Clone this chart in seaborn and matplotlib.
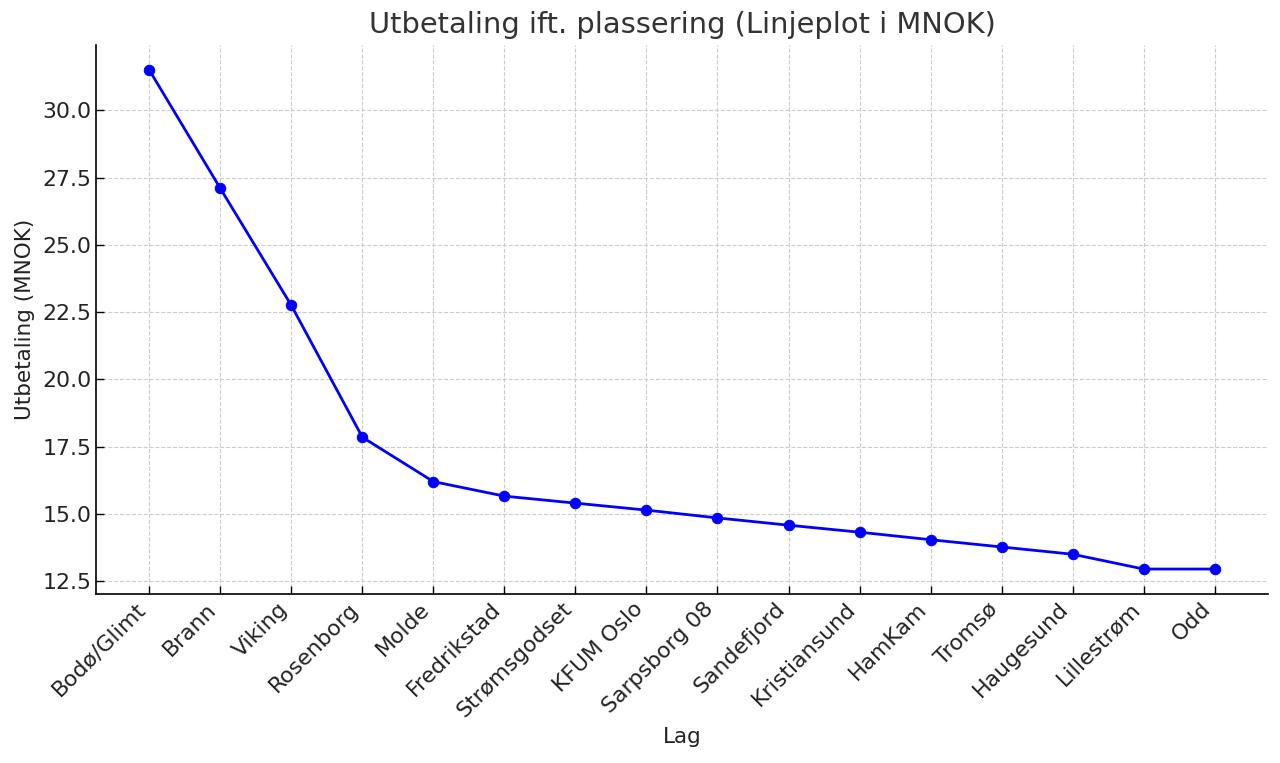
import matplotlib
matplotlib.use("Agg")
import matplotlib.pyplot as plt
import pandas as pd
import seaborn as sns

# Laget og utbetaling i MNOK, lest av figuren
teams = ["Bodø/Glimt", "Brann", "Viking", "Rosenborg", "Molde", "Fredrikstad",
         "Strømsgodset", "KFUM Oslo", "Sarpsborg 08", "Sandefjord", "Kristiansund",
         "HamKam", "Tromsø", "Haugesund", "Lillestrøm", "Odd"]
payout = [31.5, 27.1, 22.75, 17.85, 16.2, 15.66, 15.4, 15.14, 14.85, 14.58,
          14.32, 14.04, 13.77, 13.5, 12.95, 12.95]

sns.set_style("ticks")
plt.rcParams["font.family"] = ["DejaVu Sans"]

df = pd.DataFrame({"Lag": teams, "Utbetaling": payout})

fig = plt.figure(figsize=(12.8, 7.63), dpi=100)
ax = fig.add_axes([0.075, 0.2215, 0.9156, 0.7195])

sns.lineplot(data=df, x="Lag", y="Utbetaling", sort=False, estimator=None,
             color="blue", linewidth=2, marker="o", markersize=7.5,
             markeredgecolor="blue", ax=ax)

ax.grid(True, linestyle="--", color="#cccccc", linewidth=0.8)
ax.set_axisbelow(True)
for side in ["top", "right"]:
    ax.spines[side].set_visible(False)
for side in ["left", "bottom"]:
    ax.spines[side].set_linewidth(1.2)
    ax.spines[side].set_color("black")

ax.tick_params(direction="in", length=6, width=1, labelsize=15.8, colors="black",
               labelcolor="#222222")
plt.setp(ax.get_xticklabels(), rotation=45, ha="right")

ax.set_title("Utbetaling ift. plassering (Linjeplot i MNOK)", fontsize=20.8,
             color="#333333", pad=9)
ax.set_xlabel("Lag", fontsize=15.5, color="#222222", labelpad=4)
ax.set_ylabel("Utbetaling (MNOK)", fontsize=15.5, color="#222222", labelpad=5)

fig.savefig("out.png", dpi=100)
